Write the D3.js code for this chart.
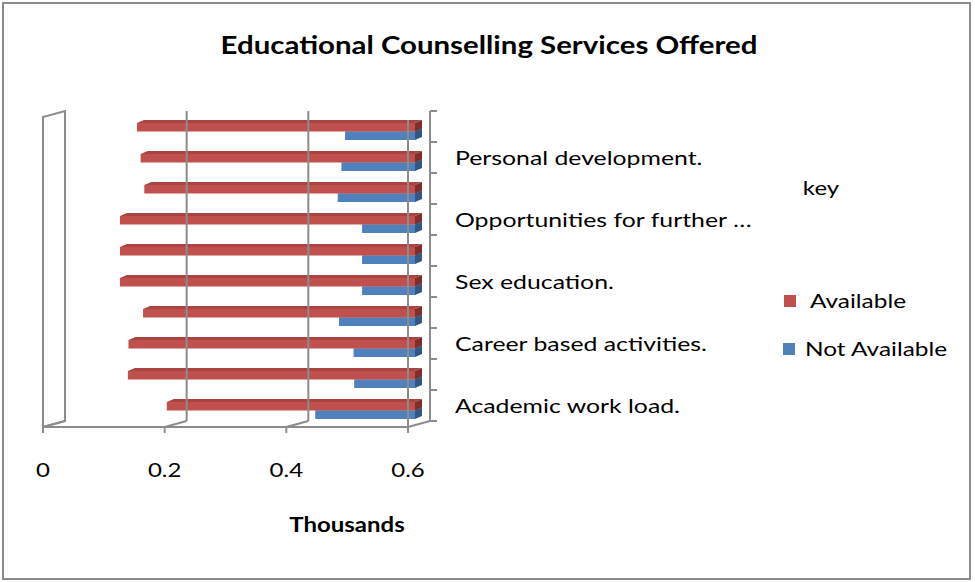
<!DOCTYPE html>
<html>
<head>
<meta charset="utf-8">
<script src="https://cdn.jsdelivr.net/npm/d3@7"></script>
<style>
  html, body { margin: 0; padding: 0; background: #fff; }
  svg { display: block; }
  text { font-family: Lato, "Open Sans", "DejaVu Sans", sans-serif; fill: #000; }
</style>
</head>
<body>
<svg id="chart" width="975" height="582"></svg>
<script>
// Counselling services, listed bottom to top as plotted
const categories = [
  "Academic work load.",
  "Time management.",
  "Career based activities.",
  "Subject selection.",
  "Sex education.",
  "HIV/AIDS awareness.",
  "Opportunities for further …",
  "Drug and substance abuse.",
  "Personal development.",
  "Study skills."
];
// Number of respondents per service
const available    = [192, 128, 129, 153, 115, 115, 115, 155, 149, 143];
const notAvailable = [436, 500, 499, 475, 513, 513, 513, 473, 479, 485];
const seriesNames  = ["Available", "Not Available"];
const xTicks       = [0, 200, 400, 600];
const titleText    = "Educational Counselling Services Offered";
const axisTitle    = "Thousands";
const legendTitle  = "key";

const svg = d3.select("#chart");

// widen glyphs horizontally by factor k, keeping their height
function stretch(k) {
  return sel => sel.each(function () {
    const w = this.getComputedTextLength();
    d3.select(this).attr("textLength", w * k).attr("lengthAdjust", "spacingAndGlyphs");
  });
}
const HSTRETCH = 1.24;

// outer frame
svg.append("rect").attr("x", 3).attr("y", 3).attr("width", 967).attr("height", 576)
  .attr("fill", "#fff").attr("stroke", "#8c8c8c").attr("stroke-width", 2);

// 3-D geometry: front plane and back plane (depth offset)
const front = { top: 117, bottom: 427 };
const DEPTH = { dx: 22, dy: -6 };       // back wall offset
const BAR_OFF = { dx: 7, dy: -1 };      // bar front face offset
const BAR_DEPTH = { dx: 7, dy: -3 };    // bar thickness in depth
const BAR_H = 8.5;

const x = d3.scaleLinear().domain([0, 600]).range([43, 408]);
const y = d3.scaleBand().domain(d3.range(categories.length)).range([front.bottom, front.top]);

const colors = {
  "Available":     { front: "#c0504d", top: "#a94441", side: "#7e2f2d" },
  "Not Available": { front: "#4f81bd", top: "#41699b", side: "#335783" }
};

const gridColor = "#8c8c8c";
const g = svg.append("g");

// left side wall
g.append("path")
  .attr("d", `M${x(0)},${front.bottom} L${x(0)},${front.top} L${x(0) + DEPTH.dx},${front.top + DEPTH.dy} L${x(0) + DEPTH.dx},${front.bottom + DEPTH.dy} Z`)
  .attr("fill", "none").attr("stroke", gridColor).attr("stroke-width", 2);

// floor edge + ticks
g.append("line").attr("x1", x(0)).attr("x2", x(600)).attr("y1", front.bottom).attr("y2", front.bottom)
  .attr("stroke", gridColor).attr("stroke-width", 2);
g.selectAll(".floorTick").data(xTicks).join("line")
  .attr("x1", d => x(d)).attr("x2", d => x(d))
  .attr("y1", front.bottom).attr("y2", front.bottom + 6)
  .attr("stroke", gridColor).attr("stroke-width", 2);
g.selectAll(".floorSlant").data(xTicks).join("line")
  .attr("x1", d => x(d)).attr("y1", front.bottom)
  .attr("x2", d => x(d) + DEPTH.dx).attr("y2", front.bottom + DEPTH.dy)
  .attr("stroke", gridColor).attr("stroke-width", 2);

// bars: drawn from the axis crossing (maximum) toward each value
const barsG = svg.append("g");
function drawBar(val, name, yTop) {
  const c = colors[name];
  const x0 = x(val) + BAR_OFF.dx, x1 = x(600) + BAR_OFF.dx;
  const y0 = yTop, y1 = yTop + BAR_H;
  const b = barsG.append("g");
  b.append("path").attr("fill", c.top)
    .attr("d", `M${x0},${y0} L${x0 + BAR_DEPTH.dx},${y0 + BAR_DEPTH.dy} L${x1 + BAR_DEPTH.dx},${y0 + BAR_DEPTH.dy} L${x1},${y0} Z`);
  b.append("path").attr("fill", c.side)
    .attr("d", `M${x1},${y0} L${x1 + BAR_DEPTH.dx},${y0 + BAR_DEPTH.dy} L${x1 + BAR_DEPTH.dx},${y1 + BAR_DEPTH.dy} L${x1},${y1} Z`);
  b.append("rect").attr("fill", c.front)
    .attr("x", x0).attr("y", y0).attr("width", x1 - x0).attr("height", BAR_H);
}
for (let i = categories.length - 1; i >= 0; i--) {
  const cy = y(i) + y.bandwidth() / 2 + BAR_OFF.dy;
  drawBar(notAvailable[i], "Not Available", cy);
  drawBar(available[i], "Available", cy - BAR_H);
}

// gridlines on the back wall, and the front edge at the crossing
const grid = svg.append("g");
grid.selectAll("line.back").data(xTicks.filter(d => d > 0 && d < 600)).join("line")
  .attr("x1", d => x(d) + DEPTH.dx).attr("x2", d => x(d) + DEPTH.dx)
  .attr("y1", front.top + DEPTH.dy).attr("y2", front.bottom + DEPTH.dy)
  .attr("stroke", gridColor).attr("stroke-width", 2);
grid.append("line")
  .attr("x1", x(600)).attr("x2", x(600)).attr("y1", front.top + 3).attr("y2", front.bottom)
  .attr("stroke", gridColor).attr("stroke-width", 2);

// category axis on the right (back plane)
const axX = x(600) + DEPTH.dx;
grid.append("line").attr("x1", axX).attr("x2", axX)
  .attr("y1", front.top + DEPTH.dy).attr("y2", front.bottom + DEPTH.dy)
  .attr("stroke", gridColor).attr("stroke-width", 2);
const bounds = d3.range(categories.length + 1).map(i => front.bottom - i * y.step() + DEPTH.dy);
grid.selectAll("line.ctick").data(bounds).join("line")
  .attr("x1", axX).attr("x2", axX + 7).attr("y1", d => d).attr("y2", d => d)
  .attr("stroke", gridColor).attr("stroke-width", 2);

// category labels (every other one fits)
svg.append("g").selectAll("text").data(categories.map((c, i) => ({ c, i })).filter(d => d.i % 2 === 0))
  .join("text")
  .attr("x", 455)
  .attr("y", d => y(d.i) + y.bandwidth() / 2 + DEPTH.dy + 7)
  .attr("font-size", 20).attr("fill", "#000")
  .text(d => d.c)
  .call(stretch(HSTRETCH));

// value axis labels
svg.append("g").selectAll("text").data(xTicks).join("text")
  .attr("x", d => x(d)).attr("y", 477)
  .attr("text-anchor", "middle").attr("font-size", 20)
  .text(d => d3.format(".1~f")(d / 1000))
  .call(stretch(1.2));

svg.append("text").attr("x", 347).attr("y", 532).attr("text-anchor", "middle")
  .attr("font-size", 20).attr("font-weight", "bold").text(axisTitle).call(stretch(1.2));

// title
svg.append("text").attr("x", 489).attr("y", 54).attr("text-anchor", "middle")
  .attr("font-size", 24.5).attr("font-weight", "bold").text(titleText).call(stretch(1.2));

// legend
const leg = svg.append("g");
leg.append("text").attr("x", 821).attr("y", 195).attr("text-anchor", "middle")
  .attr("font-size", 20).text(legendTitle).call(stretch(1.2));
const legendItems = [
  { name: seriesNames[0], sx: 784, sy: 295, tx: 810 },
  { name: seriesNames[1], sx: 783, sy: 343, tx: 805 }
];
legendItems.forEach(d => {
  leg.append("rect").attr("x", d.sx).attr("y", d.sy).attr("width", 12).attr("height", 12)
    .attr("fill", colors[d.name].front);
  leg.append("text").attr("x", d.tx).attr("y", d.sy + 13).attr("font-size", 20)
    .text(d.name).call(stretch(1.22));
});
</script>
</body>
</html>
